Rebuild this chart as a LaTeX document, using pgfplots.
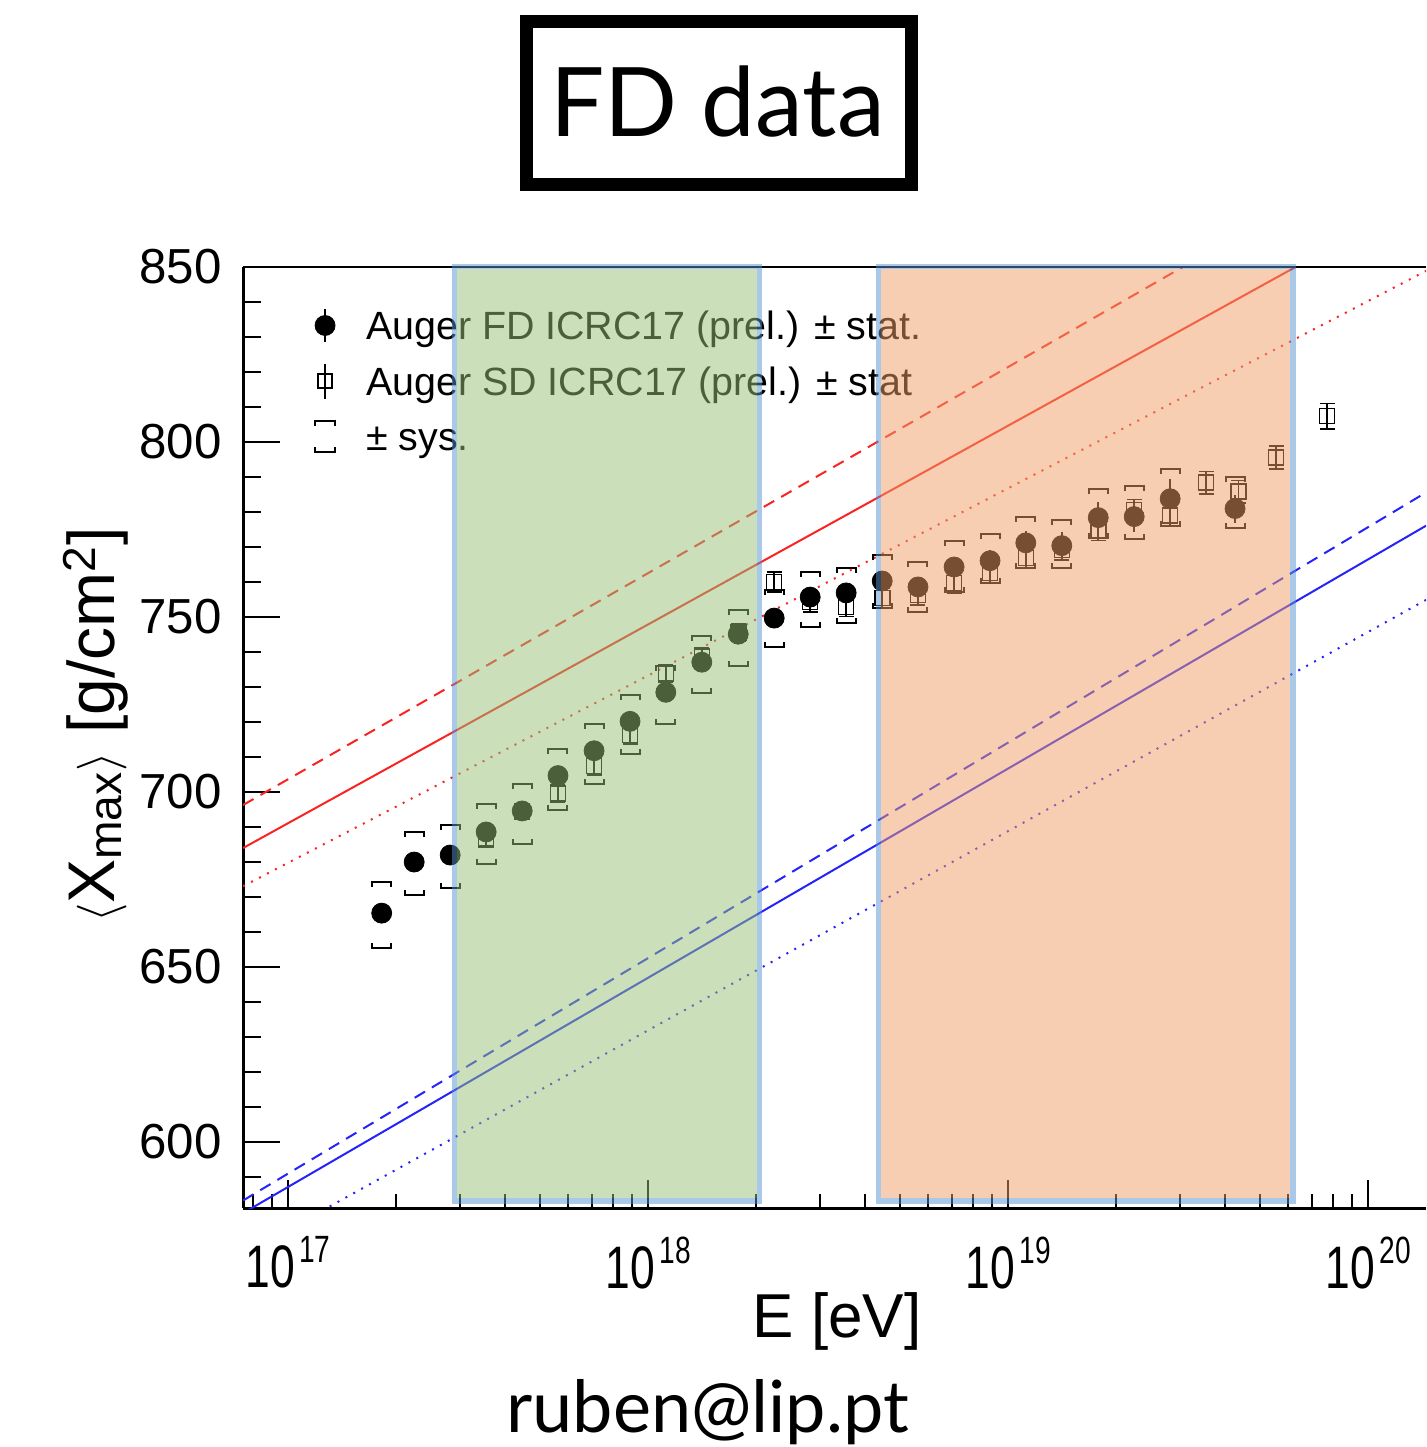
\documentclass[border=0pt]{standalone}
\usepackage{fontspec}
\setmainfont{Liberation Sans}
\newfontfamily\gill{Lato}
\usepackage{pgfplots}
\usepackage{pgfplotstable}
\pgfplotsset{compat=1.18}
\usetikzlibrary{calc}

\definecolor{bandgreen}{RGB}{151,191,117}
\definecolor{bandorange}{RGB}{239,157,101}
\definecolor{bandedge}{RGB}{85,145,209}
\definecolor{lred}{RGB}{250,35,35}
\definecolor{lblue}{RGB}{35,35,250}

\pgfdeclareplotmark{systop}{%
  \pgfpathmoveto{\pgfqpoint{-\pgfplotmarksize}{-2.5pt}}%
  \pgfpathlineto{\pgfqpoint{-\pgfplotmarksize}{0pt}}%
  \pgfpathlineto{\pgfqpoint{\pgfplotmarksize}{0pt}}%
  \pgfpathlineto{\pgfqpoint{\pgfplotmarksize}{-2.5pt}}%
  \pgfusepathqstroke}
\pgfdeclareplotmark{sysbot}{%
  \pgfpathmoveto{\pgfqpoint{-\pgfplotmarksize}{2.5pt}}%
  \pgfpathlineto{\pgfqpoint{-\pgfplotmarksize}{0pt}}%
  \pgfpathlineto{\pgfqpoint{\pgfplotmarksize}{0pt}}%
  \pgfpathlineto{\pgfqpoint{\pgfplotmarksize}{2.5pt}}%
  \pgfusepathqstroke}

% FD: energy, <Xmax>, stat+, stat-, sys+, sys-
\pgfplotstableread{
E y ep em su sl
1.82e17 665.3 1.2 1.2 8.9 10.0
2.24e17 679.9 1.2 1.2 8.6 9.5
2.82e17 681.9 1.2 1.2 8.6 9.5
3.55e17 688.5 1.2 1.2 8.0 9.2
4.47e17 694.5 1.2 1.2 7.7 9.5
5.62e17 704.6 1.2 1.2 7.5 9.8
7.08e17 711.7 1.3 1.3 7.7 9.5
8.91e17 720.1 1.3 1.3 7.5 9.2
1.12e18 728.4 1.4 1.4 7.5 9.2
1.41e18 737.0 1.5 1.5 7.5 8.9
1.78e18 745.0 1.6 1.6 7.0 9.2
2.24e18 749.6 1.7 1.7 8.0 8.3
2.82e18 755.6 2.0 2.0 7.2 8.6
3.55e18 756.8 2.1 2.1 7.2 8.6
4.47e18 760.2 2.3 2.3 7.5 7.7
5.62e18 758.5 2.5 2.5 7.2 7.2
7.08e18 764.2 2.7 2.7 7.5 7.2
8.91e18 766.0 3.0 3.0 7.5 6.3
1.12e19 771.1 3.5 3.5 7.5 7.2
1.41e19 770.3 3.8 3.8 7.2 6.3
1.78e19 778.3 4.5 4.5 8.3 5.7
2.24e19 778.6 4.5 4.5 8.6 6.3
2.82e19 783.7 5.7 5.7 8.6 7.7
4.27e19 780.9 4.0 4.0 8.9 5.5
}\fdtable

% SD: energy, <Xmax>, stat
\pgfplotstableread{
E y e
3.55e17 686.4 2.0
4.47e17 694.3 2.0
5.62e17 699.5 2.5
7.08e17 707.3 2.5
8.91e17 716.2 2.5
1.12e18 733.8 2.5
1.41e18 738.6 2.5
1.78e18 745.5 2.5
2.24e18 759.9 2.8
2.82e18 754.2 2.8
3.55e18 752.8 2.8
4.47e18 755.3 2.8
5.62e18 756.2 2.8
7.08e18 759.6 2.8
8.91e18 762.5 2.8
1.12e19 766.8 2.8
1.41e19 769.0 2.8
1.78e19 774.8 3.0
2.24e19 780.5 3.0
2.82e19 778.9 3.0
3.55e19 788.3 3.2
4.37e19 785.7 3.2
5.55e19 795.5 3.3
7.69e19 807.3 3.6
}\sdtable

\newcommand{\xtl}[1]{\scalebox{0.74}[1]{10\hspace{3pt}\raisebox{12.5pt}{\fontsize{19}{19}\selectfont #1}}}

\begin{document}
\begin{tikzpicture}
\useasboundingbox (0,0) rectangle (713pt,723.5pt);
\begin{axis}[
  at={(121.5pt,119.4pt)}, anchor=south west,
  scale only axis, width=591.5pt, height=470.75pt,
  xmode=log, xmin=7.50e16, xmax=1.449e20,
  ymin=581, ymax=850,
  axis lines*=left,
  axis line style={-, line width=1.5pt},
  tick align=inside,
  xtick pos=bottom, ytick pos=left,
  tick style={line width=1pt, black},
  major tick length=18.5pt, minor tick length=9pt,
  xtick style={/pgfplots/major tick length=14pt, /pgfplots/minor tick length=7pt},
  xtick={1e17,1e18,1e19,1e20},
  minor xtick={8e16,9e16,2e17,3e17,4e17,5e17,6e17,7e17,8e17,9e17,2e18,3e18,4e18,5e18,6e18,7e18,8e18,9e18,2e19,3e19,4e19,5e19,6e19,7e19,8e19,9e19},
  xticklabels={\xtl{17},\xtl{18},\xtl{19},\xtl{20}},
  xticklabel style={font=\fontsize{30}{32}\selectfont, anchor=north, inner sep=0pt, yshift=-14pt},
  ytick={600,650,700,750,800,850},
  yticklabels={600,650,700,750,800,850},
  minor ytick={590,610,620,630,640,660,670,680,690,710,720,730,740,760,770,780,790,810,820,830,840},
  yticklabel style={font=\fontsize{24.6}{26}\selectfont, anchor=east, inner sep=0pt, xshift=-10.5pt},
  legend style={at={(0,1)}, anchor=north west, xshift=31pt, yshift=-20.6pt,
    draw=none, fill=none, inner sep=0pt, outer sep=0pt,
    row sep=9.9pt, column sep=10.5pt,
    font=\fontsize{19.7}{22}\selectfont,
    nodes={inner sep=0pt, text height=14.2pt, text depth=0pt, anchor=west}},
  legend cell align=left,
]
% model lines
\addplot[lred, line width=1pt, forget plot] coordinates {(7.50e16,683.9) (1.449e20,870.5)};
\addplot[lred, line width=1pt, dash pattern=on 6pt off 4pt, forget plot] coordinates {(7.50e16,696.2) (1.449e20,889.7)};
\addplot[lred, line width=1pt, dash pattern=on 1pt off 3.5pt, forget plot] coordinates {(7.50e16,673.0) (1.449e20,848.8)};
\addplot[lblue, line width=1pt, forget plot] coordinates {(7.50e16,579.6) (1.449e20,776.0)};
\addplot[lblue, line width=1pt, dash pattern=on 6pt off 4pt, forget plot] coordinates {(7.50e16,583.2) (1.449e20,785.5)};
\addplot[lblue, line width=1pt, dash pattern=on 1pt off 3.5pt, forget plot] coordinates {(7.50e16,567.8) (1.449e20,754.8)};
% SD
\addplot[black, only marks, mark=square, mark size=3.75pt, mark options={line width=0.8pt, solid}, forget plot,
  error bars/.cd, y dir=both, y explicit, error mark=-, error mark options={rotate=90, mark size=3.75pt, line width=0.8pt},
  error bar style={line width=0.8pt}]
  table[x=E, y=y, y error=e] {\sdtable};
% FD
\addplot[black, only marks, mark=*, mark size=5pt, forget plot,
  error bars/.cd, y dir=both, y explicit, error mark=none, error bar style={line width=1pt}]
  table[x=E, y=y, y error plus=ep, y error minus=em] {\fdtable};
% FD systematics
\addplot[black, only marks, mark=systop, mark size=4.75pt, mark options={line width=1pt, line join=miter}, forget plot]
  table[x=E, y expr=\thisrow{y}+\thisrow{su}] {\fdtable};
\addplot[black, only marks, mark=sysbot, mark size=4.75pt, mark options={line width=1pt, line join=miter}, forget plot]
  table[x=E, y expr=\thisrow{y}-\thisrow{sl}] {\fdtable};
% legend
\addlegendimage{legend image code/.code={\path[draw=none, fill=none] (-10pt,-8.5pt) rectangle (10pt,8.5pt); \draw[black, line width=1pt] (0pt,-8.3pt)--(0pt,8.3pt); \fill[black] (0pt,0pt) circle (5pt);}}
\addlegendentry{Auger FD ICRC17 (prel.) ± stat.}
\addlegendimage{legend image code/.code={\path[draw=none, fill=none] (-10pt,-8.5pt) rectangle (10pt,8.5pt); \draw[black, line width=0.9pt] (0pt,-8.75pt)--(0pt,8.75pt); \draw[black, line width=0.9pt, fill=none] (-3.5pt,-3.5pt) rectangle (3.5pt,3.5pt);}}
\addlegendentry{Auger SD ICRC17 (prel.) ± stat}
\addlegendimage{legend image code/.code={\path[draw=none, fill=none] (-10pt,-8.5pt) rectangle (10pt,8.5pt); \draw[black, line width=1pt, line join=miter, fill=none] (-5pt,5.25pt)--(-5pt,7.75pt)--(5pt,7.75pt)--(5pt,5.25pt); \draw[black, line width=1pt, line join=miter, fill=none] (-5pt,-5.25pt)--(-5pt,-7.75pt)--(5pt,-7.75pt)--(5pt,-5.25pt);}}
\addlegendentry{± sys.}
\draw[line width=1.5pt] (rel axis cs:0,1) -- (rel axis cs:1,1);
\coordinate (G1) at (axis cs:2.901e17,583.1);
\coordinate (G2) at (axis cs:2.040e18,850);
\coordinate (O1) at (axis cs:4.369e18,583.1);
\coordinate (O2) at (axis cs:6.19e19,850);
\end{axis}
% overlay bands
\fill[bandgreen, fill opacity=0.5] ($(G1)+(1.375pt,1.375pt)$) rectangle ($(G2)+(-1.375pt,-1.375pt)$);
\draw[bandedge, draw opacity=0.5, line width=2.75pt] (G1) rectangle (G2);
\fill[bandorange, fill opacity=0.5] ($(O1)+(1.375pt,1.375pt)$) rectangle ($(O2)+(-1.375pt,-1.375pt)$);
\draw[bandedge, draw opacity=0.5, line width=2.75pt] (O1) rectangle (O2);
% texts
\draw[line width=6.5pt] (263pt,631pt) rectangle (455.5pt,712.75pt);
\node[anchor=base, font=\gill\fontsize{48}{50}\selectfont, inner sep=0pt] at (358.75pt,655pt) {FD data};
\node[anchor=base, font=\gill\fontsize{36}{40}\selectfont, inner sep=0pt] at (353.75pt,7pt) {ruben@lip.pt};
\node[anchor=base, font=\fontsize{31}{34}\selectfont, inner sep=0pt] at (418.5pt,54.5pt) {E [eV]};
\node[rotate=90, anchor=base, font=\fontsize{33}{36}\selectfont, inner sep=0pt] at (57pt,361pt) {$\langle$X\textsubscript{max}$\rangle$ [g/cm\textsuperscript{2}]};
\end{tikzpicture}
\end{document}
